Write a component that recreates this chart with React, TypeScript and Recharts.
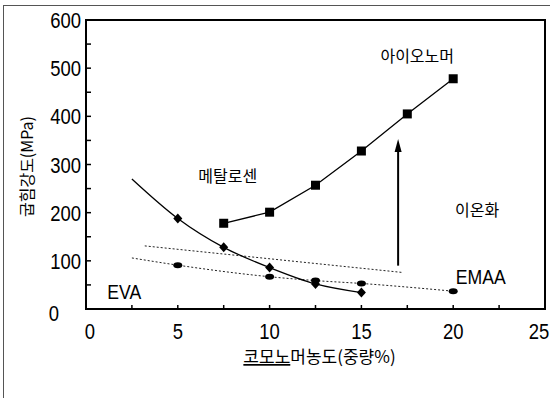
import {
  ComposedChart,
  Line,
  XAxis,
  YAxis,
  ReferenceArea,
  ReferenceDot,
} from "recharts";

/* ================= DATA ================= */

// 아이오노머 (squares)
const ionomerX = [7.5, 10, 12.5, 15, 17.5, 20];
const ionomerY = [178, 201, 257, 328, 405, 478];

// 메탈로센 (diamonds, solid curve) - first point is the curve start, no marker
const metalloceneX = [2.5, 5, 7.5, 10, 12.5, 15];
const metalloceneY = [270, 188, 128, 86, 52, 34];

// EVA (ellipses, dotted) - first point is the line start, no marker
const evaX = [2.5, 5, 10, 12.5, 15, 20];
const evaY = [106, 91, 67, 59, 53, 37];

// EMAA (dotted trend, no markers)
const emaaX = [3.2, 17.2];
const emaaY = [131, 76];

// 이온화 arrow
const arrowX = [17, 17];
const arrowY = [90, 326];

const xTicks = [0, 2.5, 5, 7.5, 10, 12.5, 15, 17.5, 20, 22.5, 25];
const yTicks = [0, 50, 100, 150, 200, 250, 300, 350, 400, 450, 500, 550, 600];

const notes = [
  { x: 18.04, y: 527, text: "아이오노머", latin: false },
  { x: 7.72, y: 278, text: "메탈로센", latin: false },
  { x: 21.3, y: 208, text: "이온화", latin: false },
  { x: 21.5, y: 68, text: "EMAA", latin: true },
  { x: 2.08, y: 37, text: "EVA", latin: true },
];

const toRows = (xs: number[], ys: number[]) =>
  xs.map((x, i) => ({ x, y: ys[i] }));

const ionomer = toRows(ionomerX, ionomerY);
const metallocene = toRows(metalloceneX, metalloceneY);
const eva = toRows(evaX, evaY);
const emaa = toRows(emaaX, emaaY);
const arrow = toRows(arrowX, arrowY);

/* ================= HELPERS ================= */

const SANS = "'Liberation Sans', Arial, sans-serif";
const KO = "'Noto Sans CJK KR', sans-serif";

// condensed latin text, like the narrow face of the original figure
const Narrow = ({ x, y, anchor, size, middle, children }: any) => (
  <text
    transform={`translate(${x},${y}) scale(0.84,1)`}
    textAnchor={anchor}
    dominantBaseline={middle ? "central" : undefined}
    fontSize={size}
    fontFamily={SANS}
    fill="#000"
  >
    {children}
  </text>
);

const Square = (p: any) => (
  <rect key={p.index} x={p.cx - 4.5} y={p.cy - 4.5} width={9} height={9} fill="#000" />
);

const Diamond = (p: any) =>
  p.index === 0 ? (
    <g key={p.index} />
  ) : (
    <path
      key={p.index}
      d={`M${p.cx},${p.cy - 5}L${p.cx + 4.5},${p.cy}L${p.cx},${p.cy + 5}L${p.cx - 4.5},${p.cy}Z`}
      fill="#000"
    />
  );

const Ellipse = (p: any) =>
  p.index === 0 ? (
    <g key={p.index} />
  ) : (
    <ellipse key={p.index} cx={p.cx} cy={p.cy} rx={4.5} ry={3} fill="#000" />
  );

const ArrowHead = (p: any) =>
  p.index === 0 ? (
    <g key={p.index} />
  ) : (
    <path
      key={p.index}
      d={`M${p.cx},${p.cy - 13}L${p.cx + 3.5},${p.cy}L${p.cx - 3.5},${p.cy}Z`}
      fill="#000"
    />
  );

const XTick = ({ x, y, payload }: any) => {
  if (payload.value % 5 !== 0) return <g />;
  let dx = 0;
  if (payload.value === 0) dx = 4;
  if (payload.value === 25) dx = -6;
  return (
    <Narrow x={x + dx} y={y + 16} anchor="middle" size={22}>
      {payload.value}
    </Narrow>
  );
};

const YTick = ({ x, y, payload }: any) => {
  if (payload.value % 100 !== 0) return <g />;
  const zero = payload.value === 0;
  return (
    <Narrow x={zero ? x - 22 : x} y={zero ? y + 12 : y + 8} anchor="end" size={22}>
      {payload.value}
    </Narrow>
  );
};

const XLabel = ({ viewBox }: any) => (
  <text
    x={viewBox.x + viewBox.width / 2 + 4}
    y={363}
    textAnchor="middle"
    fontSize={17}
    fontFamily={KO}
    fill="#000"
  >
    <tspan textDecoration="underline">코모노</tspan>
    <tspan>머농도(중량%)</tspan>
  </text>
);

const YLabel = ({ viewBox }: any) => {
  const cy = viewBox.y + viewBox.height / 2 + 2;
  return (
    <text
      x={26}
      y={cy}
      transform={`rotate(-90, 26, ${cy})`}
      textAnchor="middle"
      dominantBaseline="central"
      fontSize={16}
      fontFamily={KO}
      fill="#000"
    >
      굽힘강도(MPa)
    </text>
  );
};

/* ================= COMPONENT ================= */

export default function App() {
  return (
    <div style={styles.page}>
      <style>{"body{margin:0}"}</style>
      <div style={styles.frame} />
      <ComposedChart
        width={550}
        height={398}
        margin={{ top: 20, right: 5, bottom: 29, left: 0 }}
      >
        <XAxis
          type="number"
          dataKey="x"
          domain={[0, 25]}
          ticks={xTicks}
          interval={0}
          tickSize={-4}
          tickMargin={18}
          tick={<XTick />}
          height={60}
          axisLine={{ stroke: "#000", strokeWidth: 2 }}
          tickLine={{ stroke: "#000", strokeWidth: 1.5 }}
          label={<XLabel />}
        />
        <YAxis
          type="number"
          dataKey="y"
          domain={[0, 600]}
          ticks={yTicks}
          interval={0}
          width={86}
          tickSize={-5}
          tickMargin={10}
          tick={<YTick />}
          axisLine={{ stroke: "#000", strokeWidth: 2 }}
          tickLine={{ stroke: "#000", strokeWidth: 1.5 }}
          label={<YLabel />}
        />
        <ReferenceArea
          x1={0}
          x2={25}
          y1={0}
          y2={600}
          fill="none"
          stroke="#000"
          strokeWidth={2}
        />

        <Line
          data={emaa}
          dataKey="y"
          type="linear"
          stroke="#222"
          strokeWidth={1}
          strokeDasharray="2 2"
          dot={false}
          isAnimationActive={false}
        />
        <Line
          data={eva}
          dataKey="y"
          type="monotone"
          stroke="#222"
          strokeWidth={1}
          strokeDasharray="2 2"
          dot={Ellipse}
          isAnimationActive={false}
        />
        <Line
          data={metallocene}
          dataKey="y"
          type="monotone"
          stroke="#000"
          strokeWidth={1.3}
          dot={Diamond}
          isAnimationActive={false}
        />
        <Line
          data={ionomer}
          dataKey="y"
          type="linear"
          stroke="#000"
          strokeWidth={1.3}
          dot={Square}
          isAnimationActive={false}
        />
        <Line
          data={arrow}
          dataKey="y"
          type="linear"
          stroke="#000"
          strokeWidth={2}
          dot={ArrowHead}
          isAnimationActive={false}
        />

        {notes.map((n) => (
          <ReferenceDot
            key={n.text}
            x={n.x}
            y={n.y}
            r={1}
            shape={(p: any) =>
              n.latin ? (
                <Narrow x={p.cx} y={p.cy} anchor="middle" size={21} middle>
                  {n.text}
                </Narrow>
              ) : (
                <text
                  x={p.cx}
                  y={p.cy}
                  textAnchor="middle"
                  dominantBaseline="central"
                  fontSize={16}
                  fontFamily={KO}
                  fill="#000"
                >
                  {n.text}
                </text>
              )
            }
          />
        ))}
      </ComposedChart>
    </div>
  );
}

/* ================= STYLES ================= */

const styles: Record<string, React.CSSProperties> = {
  page: {
    position: "relative",
    width: 550,
    height: 398,
    overflow: "hidden",
    background: "#fff",
  },
  frame: {
    position: "absolute",
    left: 3,
    top: 5,
    width: 600,
    height: 500,
    borderLeft: "1.5px solid #555",
    borderTop: "1.5px solid #555",
  },
};
